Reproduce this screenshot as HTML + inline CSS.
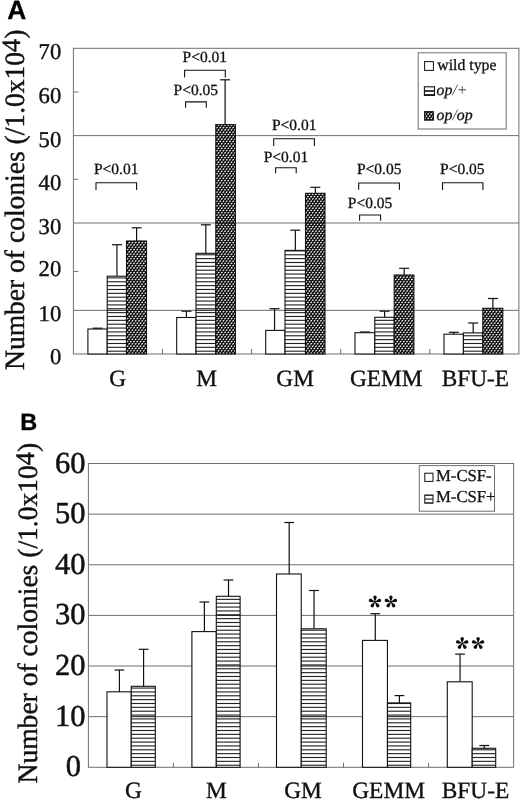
<!DOCTYPE html>
<html><head><meta charset="utf-8"><title>Figure</title>
<style>
html,body{margin:0;padding:0;background:#fff;}
body{width:520px;height:801px;overflow:hidden;font-family:"Liberation Serif",serif;}
svg{display:block;filter:grayscale(1);}
text{text-rendering:geometricPrecision;}
</style></head><body>
<svg width="520" height="801" viewBox="0 0 520 801">
<defs>
<pattern id="hz" x="0" y="0" width="8" height="27" patternUnits="userSpaceOnUse"><rect x="0" y="0" width="8" height="27" fill="#fff"/><rect x="0" y="-4.217" width="8" height="1.12" fill="#222"/><rect x="0" y="-0.360" width="8" height="1.12" fill="#222"/><rect x="0" y="3.497" width="8" height="1.12" fill="#222"/><rect x="0" y="7.354" width="8" height="1.12" fill="#222"/><rect x="0" y="11.211" width="8" height="1.12" fill="#222"/><rect x="0" y="15.069" width="8" height="1.12" fill="#222"/><rect x="0" y="18.926" width="8" height="1.12" fill="#222"/><rect x="0" y="22.783" width="8" height="1.12" fill="#222"/><rect x="0" y="26.640" width="8" height="1.12" fill="#222"/></pattern>
<pattern id="hzb" x="0" y="0" width="8" height="27" patternUnits="userSpaceOnUse"><rect x="0" y="0" width="8" height="27" fill="#fff"/><rect x="0" y="-2.917" width="8" height="1.12" fill="#222"/><rect x="0" y="0.940" width="8" height="1.12" fill="#222"/><rect x="0" y="4.797" width="8" height="1.12" fill="#222"/><rect x="0" y="8.654" width="8" height="1.12" fill="#222"/><rect x="0" y="12.511" width="8" height="1.12" fill="#222"/><rect x="0" y="16.369" width="8" height="1.12" fill="#222"/><rect x="0" y="20.226" width="8" height="1.12" fill="#222"/><rect x="0" y="24.083" width="8" height="1.12" fill="#222"/><rect x="0" y="27.940" width="8" height="1.12" fill="#222"/></pattern>
<pattern id="dn" x="0" y="0" width="13" height="23" patternUnits="userSpaceOnUse"><rect x="0" y="0" width="13" height="23" fill="#0a0a0a"/><path d="M-1.09 -0.95L-0.53 -1.35M2.16 -0.95L2.72 -1.35M5.41 -0.95L5.97 -1.35M8.66 -0.95L9.22 -1.35M11.91 -0.95L12.47 -1.35M15.16 -0.95L15.72 -1.35M-2.72 1.35L-2.16 0.95M0.53 1.35L1.09 0.95M3.78 1.35L4.34 0.95M7.03 1.35L7.59 0.95M10.28 1.35L10.84 0.95M13.53 1.35L14.09 0.95M-1.09 3.65L-0.53 3.25M2.16 3.65L2.72 3.25M5.41 3.65L5.97 3.25M8.66 3.65L9.22 3.25M11.91 3.65L12.47 3.25M15.16 3.65L15.72 3.25M-2.72 5.95L-2.16 5.55M0.53 5.95L1.09 5.55M3.78 5.95L4.34 5.55M7.03 5.95L7.59 5.55M10.28 5.95L10.84 5.55M13.53 5.95L14.09 5.55M-1.09 8.25L-0.53 7.85M2.16 8.25L2.72 7.85M5.41 8.25L5.97 7.85M8.66 8.25L9.22 7.85M11.91 8.25L12.47 7.85M15.16 8.25L15.72 7.85M-2.72 10.55L-2.16 10.15M0.53 10.55L1.09 10.15M3.78 10.55L4.34 10.15M7.03 10.55L7.59 10.15M10.28 10.55L10.84 10.15M13.53 10.55L14.09 10.15M-1.09 12.85L-0.53 12.45M2.16 12.85L2.72 12.45M5.41 12.85L5.97 12.45M8.66 12.85L9.22 12.45M11.91 12.85L12.47 12.45M15.16 12.85L15.72 12.45M-2.72 15.15L-2.16 14.75M0.53 15.15L1.09 14.75M3.78 15.15L4.34 14.75M7.03 15.15L7.59 14.75M10.28 15.15L10.84 14.75M13.53 15.15L14.09 14.75M-1.09 17.45L-0.53 17.05M2.16 17.45L2.72 17.05M5.41 17.45L5.97 17.05M8.66 17.45L9.22 17.05M11.91 17.45L12.47 17.05M15.16 17.45L15.72 17.05M-2.72 19.75L-2.16 19.35M0.53 19.75L1.09 19.35M3.78 19.75L4.34 19.35M7.03 19.75L7.59 19.35M10.28 19.75L10.84 19.35M13.53 19.75L14.09 19.35M-1.09 22.05L-0.53 21.65M2.16 22.05L2.72 21.65M5.41 22.05L5.97 21.65M8.66 22.05L9.22 21.65M11.91 22.05L12.47 21.65M15.16 22.05L15.72 21.65M-2.72 24.35L-2.16 23.95M0.53 24.35L1.09 23.95M3.78 24.35L4.34 23.95M7.03 24.35L7.59 23.95M10.28 24.35L10.84 23.95M13.53 24.35L14.09 23.95" stroke="#f2f2f2" stroke-width="1.3" stroke-linecap="round" fill="none"/></pattern>
</defs>
<rect x="0" y="0" width="520" height="801" fill="#fff"/>

<rect x="73.4" y="48.3" width="445.50" height="305.70" fill="none" stroke="#6e6e6e" stroke-width="1"/>
<line x1="73.40" y1="135.64" x2="518.90" y2="135.64" stroke="#6e6e6e" stroke-width="1"/>
<line x1="73.40" y1="222.99" x2="518.90" y2="222.99" stroke="#6e6e6e" stroke-width="1"/>
<line x1="73.40" y1="310.33" x2="518.90" y2="310.33" stroke="#6e6e6e" stroke-width="1"/>
<line x1="73.40" y1="91.97" x2="78.40" y2="91.97" stroke="#6e6e6e" stroke-width="1"/>
<line x1="73.40" y1="179.31" x2="78.40" y2="179.31" stroke="#6e6e6e" stroke-width="1"/>
<line x1="73.40" y1="271.40" x2="78.40" y2="271.40" stroke="#6e6e6e" stroke-width="1"/>
<line x1="162.50" y1="349.00" x2="162.50" y2="354.00" stroke="#6e6e6e" stroke-width="1"/>
<line x1="251.60" y1="349.00" x2="251.60" y2="354.00" stroke="#6e6e6e" stroke-width="1"/>
<line x1="340.70" y1="349.00" x2="340.70" y2="354.00" stroke="#6e6e6e" stroke-width="1"/>
<line x1="429.80" y1="349.00" x2="429.80" y2="354.00" stroke="#6e6e6e" stroke-width="1"/>
<text x="61.20" y="363.60" font-family='"Liberation Serif", serif' font-size="22.6" text-anchor="end" font-weight="normal" font-style="normal" fill="#111" stroke="#111" stroke-width="0.4" >0</text>
<text x="61.20" y="321.33" font-family='"Liberation Serif", serif' font-size="22.6" text-anchor="end" font-weight="normal" font-style="normal" fill="#111" stroke="#111" stroke-width="0.4" >10</text>
<text x="61.20" y="276.26" font-family='"Liberation Serif", serif' font-size="22.6" text-anchor="end" font-weight="normal" font-style="normal" fill="#111" stroke="#111" stroke-width="0.4" >20</text>
<text x="61.20" y="233.99" font-family='"Liberation Serif", serif' font-size="22.6" text-anchor="end" font-weight="normal" font-style="normal" fill="#111" stroke="#111" stroke-width="0.4" >30</text>
<text x="61.20" y="190.31" font-family='"Liberation Serif", serif' font-size="22.6" text-anchor="end" font-weight="normal" font-style="normal" fill="#111" stroke="#111" stroke-width="0.4" >40</text>
<text x="61.20" y="146.64" font-family='"Liberation Serif", serif' font-size="22.6" text-anchor="end" font-weight="normal" font-style="normal" fill="#111" stroke="#111" stroke-width="0.4" >50</text>
<text x="61.20" y="102.97" font-family='"Liberation Serif", serif' font-size="22.6" text-anchor="end" font-weight="normal" font-style="normal" fill="#111" stroke="#111" stroke-width="0.4" >60</text>
<text x="61.20" y="59.30" font-family='"Liberation Serif", serif' font-size="22.6" text-anchor="end" font-weight="normal" font-style="normal" fill="#111" stroke="#111" stroke-width="0.4" >70</text>
<text x="0.00" y="0.00" font-family='"Liberation Serif", serif' font-size="28" text-anchor="start" font-weight="normal" font-style="normal" fill="#111" stroke="#111" stroke-width="0.4" transform="translate(23.6,370) rotate(-90)" textLength="340.3" lengthAdjust="spacingAndGlyphs">Number of colonies (/1.0x10<tspan dy="-3.7" font-size="26.5">4</tspan><tspan dy="3.7">)</tspan></text>
<text x="7.30" y="19.40" font-family='"Liberation Sans", sans-serif' font-size="26.4" text-anchor="start" font-weight="bold" font-style="normal" fill="#000" stroke="#000" stroke-width="0.3" >A</text>
<line x1="97.65" y1="328.20" x2="97.65" y2="329.00" stroke="#111" stroke-width="1.2"/>
<line x1="92.65" y1="328.20" x2="102.65" y2="328.20" stroke="#111" stroke-width="1.2"/>
<line x1="116.95" y1="244.70" x2="116.95" y2="276.20" stroke="#111" stroke-width="1.2"/>
<line x1="111.95" y1="244.70" x2="121.95" y2="244.70" stroke="#111" stroke-width="1.2"/>
<line x1="136.60" y1="227.80" x2="136.60" y2="241.00" stroke="#111" stroke-width="1.2"/>
<line x1="131.60" y1="227.80" x2="141.60" y2="227.80" stroke="#111" stroke-width="1.2"/>
<rect x="87.90" y="329.00" width="19.30" height="25.00" fill="#fff" stroke="#111" stroke-width="1.1"/>
<rect x="107.20" y="276.20" width="19.30" height="77.80" fill="url(#hz)" stroke="#111" stroke-width="1.1"/>
<line x1="107.20" y1="310.33" x2="126.50" y2="310.33" stroke="#1a1a1a" stroke-width="1.0"/>
<rect x="126.50" y="241.00" width="20.00" height="113.00" fill="url(#dn)" stroke="#111" stroke-width="1.1"/>
<line x1="126.50" y1="310.33" x2="146.50" y2="310.33" stroke="#1a1a1a" stroke-width="1.0"/>
<line x1="186.45" y1="311.20" x2="186.45" y2="317.50" stroke="#111" stroke-width="1.2"/>
<line x1="181.45" y1="311.20" x2="191.45" y2="311.20" stroke="#111" stroke-width="1.2"/>
<line x1="205.80" y1="224.80" x2="205.80" y2="253.30" stroke="#111" stroke-width="1.2"/>
<line x1="200.80" y1="224.80" x2="210.80" y2="224.80" stroke="#111" stroke-width="1.2"/>
<line x1="225.10" y1="79.80" x2="225.10" y2="124.60" stroke="#111" stroke-width="1.2"/>
<line x1="220.10" y1="79.80" x2="230.10" y2="79.80" stroke="#111" stroke-width="1.2"/>
<rect x="176.70" y="317.50" width="19.30" height="36.50" fill="#fff" stroke="#111" stroke-width="1.1"/>
<rect x="196.00" y="253.30" width="19.80" height="100.70" fill="url(#hz)" stroke="#111" stroke-width="1.1"/>
<line x1="196.00" y1="310.33" x2="215.80" y2="310.33" stroke="#1a1a1a" stroke-width="1.0"/>
<rect x="215.80" y="124.60" width="19.60" height="229.40" fill="url(#dn)" stroke="#111" stroke-width="1.1"/>
<line x1="215.80" y1="135.64" x2="235.40" y2="135.64" stroke="#1a1a1a" stroke-width="1.0"/>
<line x1="215.80" y1="222.99" x2="235.40" y2="222.99" stroke="#1a1a1a" stroke-width="1.0"/>
<line x1="215.80" y1="310.33" x2="235.40" y2="310.33" stroke="#1a1a1a" stroke-width="1.0"/>
<line x1="274.55" y1="308.70" x2="274.55" y2="330.40" stroke="#111" stroke-width="1.2"/>
<line x1="269.55" y1="308.70" x2="279.55" y2="308.70" stroke="#111" stroke-width="1.2"/>
<line x1="295.35" y1="230.20" x2="295.35" y2="250.40" stroke="#111" stroke-width="1.2"/>
<line x1="290.35" y1="230.20" x2="300.35" y2="230.20" stroke="#111" stroke-width="1.2"/>
<line x1="315.35" y1="187.30" x2="315.35" y2="193.30" stroke="#111" stroke-width="1.2"/>
<line x1="310.35" y1="187.30" x2="320.35" y2="187.30" stroke="#111" stroke-width="1.2"/>
<rect x="265.70" y="330.40" width="19.30" height="23.60" fill="#fff" stroke="#111" stroke-width="1.1"/>
<rect x="285.00" y="250.40" width="20.50" height="103.60" fill="url(#hz)" stroke="#111" stroke-width="1.1"/>
<line x1="285.00" y1="310.33" x2="305.50" y2="310.33" stroke="#1a1a1a" stroke-width="1.0"/>
<rect x="305.50" y="193.30" width="19.50" height="160.70" fill="url(#dn)" stroke="#111" stroke-width="1.1"/>
<line x1="305.50" y1="222.99" x2="325.00" y2="222.99" stroke="#1a1a1a" stroke-width="1.0"/>
<line x1="305.50" y1="310.33" x2="325.00" y2="310.33" stroke="#1a1a1a" stroke-width="1.0"/>
<line x1="365.00" y1="332.00" x2="365.00" y2="332.70" stroke="#111" stroke-width="1.2"/>
<line x1="360.00" y1="332.00" x2="370.00" y2="332.00" stroke="#111" stroke-width="1.2"/>
<line x1="384.60" y1="311.20" x2="384.60" y2="317.30" stroke="#111" stroke-width="1.2"/>
<line x1="379.60" y1="311.20" x2="389.60" y2="311.20" stroke="#111" stroke-width="1.2"/>
<line x1="404.15" y1="268.30" x2="404.15" y2="275.00" stroke="#111" stroke-width="1.2"/>
<line x1="399.15" y1="268.30" x2="409.15" y2="268.30" stroke="#111" stroke-width="1.2"/>
<rect x="355.00" y="332.70" width="19.80" height="21.30" fill="#fff" stroke="#111" stroke-width="1.1"/>
<rect x="374.80" y="317.30" width="19.40" height="36.70" fill="url(#hz)" stroke="#111" stroke-width="1.1"/>
<rect x="394.20" y="275.00" width="19.70" height="79.00" fill="url(#dn)" stroke="#111" stroke-width="1.1"/>
<line x1="394.20" y1="310.33" x2="413.90" y2="310.33" stroke="#1a1a1a" stroke-width="1.0"/>
<line x1="453.80" y1="332.30" x2="453.80" y2="334.20" stroke="#111" stroke-width="1.2"/>
<line x1="448.80" y1="332.30" x2="458.80" y2="332.30" stroke="#111" stroke-width="1.2"/>
<line x1="473.20" y1="323.00" x2="473.20" y2="332.90" stroke="#111" stroke-width="1.2"/>
<line x1="468.20" y1="323.00" x2="478.20" y2="323.00" stroke="#111" stroke-width="1.2"/>
<line x1="492.90" y1="298.50" x2="492.90" y2="308.30" stroke="#111" stroke-width="1.2"/>
<line x1="487.90" y1="298.50" x2="497.90" y2="298.50" stroke="#111" stroke-width="1.2"/>
<rect x="444.00" y="334.20" width="19.40" height="19.80" fill="#fff" stroke="#111" stroke-width="1.1"/>
<rect x="463.40" y="332.90" width="19.40" height="21.10" fill="url(#hz)" stroke="#111" stroke-width="1.1"/>
<rect x="482.80" y="308.30" width="20.00" height="45.70" fill="url(#dn)" stroke="#111" stroke-width="1.1"/>
<line x1="482.80" y1="310.33" x2="502.80" y2="310.33" stroke="#1a1a1a" stroke-width="1.0"/>
<text x="117.70" y="385.50" font-family='"Liberation Serif", serif' font-size="23.3" text-anchor="middle" font-weight="normal" font-style="normal" fill="#111" stroke="#111" stroke-width="0.35" >G</text>
<text x="206.50" y="385.50" font-family='"Liberation Serif", serif' font-size="23.3" text-anchor="middle" font-weight="normal" font-style="normal" fill="#111" stroke="#111" stroke-width="0.35" >M</text>
<text x="295.10" y="385.50" font-family='"Liberation Serif", serif' font-size="23.3" text-anchor="middle" font-weight="normal" font-style="normal" fill="#111" stroke="#111" stroke-width="0.35" >GM</text>
<text x="386.20" y="385.50" font-family='"Liberation Serif", serif' font-size="23.3" text-anchor="middle" font-weight="normal" font-style="normal" fill="#111" stroke="#111" stroke-width="0.35" >GEMM</text>
<text x="475.30" y="385.50" font-family='"Liberation Serif", serif' font-size="23.3" text-anchor="middle" font-weight="normal" font-style="normal" fill="#111" stroke="#111" stroke-width="0.35" >BFU-E</text>
<text x="94.00" y="173.70" font-family='"Liberation Serif", serif' font-size="15.5" text-anchor="start" font-weight="normal" font-style="normal" fill="#111" stroke="#111" stroke-width="0.3" >P&lt;0.01</text>
<polyline points="96.00,190.00 96.00,182.70 136.60,182.70 136.60,190.00" fill="none" stroke="#111" stroke-width="1.1"/>
<text x="182.60" y="61.60" font-family='"Liberation Serif", serif' font-size="15.5" text-anchor="start" font-weight="normal" font-style="normal" fill="#111" stroke="#111" stroke-width="0.3" >P&lt;0.01</text>
<polyline points="184.60,77.50 184.60,70.20 225.30,70.20 225.30,77.50" fill="none" stroke="#111" stroke-width="1.1"/>
<text x="173.60" y="95.20" font-family='"Liberation Serif", serif' font-size="15.5" text-anchor="start" font-weight="normal" font-style="normal" fill="#111" stroke="#111" stroke-width="0.3" >P&lt;0.05</text>
<polyline points="185.60,107.70 185.60,101.90 206.30,101.90 206.30,107.70" fill="none" stroke="#111" stroke-width="1.1"/>
<text x="272.00" y="129.80" font-family='"Liberation Serif", serif' font-size="15.5" text-anchor="start" font-weight="normal" font-style="normal" fill="#111" stroke="#111" stroke-width="0.3" >P&lt;0.01</text>
<polyline points="273.70,146.00 273.70,138.80 314.40,138.80 314.40,146.00" fill="none" stroke="#111" stroke-width="1.1"/>
<text x="263.70" y="161.50" font-family='"Liberation Serif", serif' font-size="15.5" text-anchor="start" font-weight="normal" font-style="normal" fill="#111" stroke="#111" stroke-width="0.3" >P&lt;0.01</text>
<polyline points="275.60,173.20 275.60,167.70 296.20,167.70 296.20,173.20" fill="none" stroke="#111" stroke-width="1.1"/>
<text x="357.00" y="173.50" font-family='"Liberation Serif", serif' font-size="15.5" text-anchor="start" font-weight="normal" font-style="normal" fill="#111" stroke="#111" stroke-width="0.3" >P&lt;0.05</text>
<polyline points="358.70,189.80 358.70,183.00 399.40,183.00 399.40,189.80" fill="none" stroke="#111" stroke-width="1.1"/>
<text x="347.80" y="207.70" font-family='"Liberation Serif", serif' font-size="15.5" text-anchor="start" font-weight="normal" font-style="normal" fill="#111" stroke="#111" stroke-width="0.3" >P&lt;0.05</text>
<polyline points="359.60,220.80 359.60,215.00 380.60,215.00 380.60,220.80" fill="none" stroke="#111" stroke-width="1.1"/>
<text x="440.10" y="173.50" font-family='"Liberation Serif", serif' font-size="15.5" text-anchor="start" font-weight="normal" font-style="normal" fill="#111" stroke="#111" stroke-width="0.3" >P&lt;0.05</text>
<polyline points="442.50,190.00 442.50,182.70 482.90,182.70 482.90,190.00" fill="none" stroke="#111" stroke-width="1.1"/>
<rect x="418.2" y="52.8" width="88" height="76.2" fill="#fff" stroke="#6e6e6e" stroke-width="1"/>
<rect x="424.6" y="61.6" width="8.8" height="8.8" fill="#fff" stroke="#111" stroke-width="1"/>
<text x="437.30" y="70.00" font-family='"Liberation Serif", serif' font-size="15.8" text-anchor="start" font-weight="normal" font-style="normal" fill="#111" stroke="#111" stroke-width="0.3" >wild type</text>
<rect x="424.4" y="86.8" width="10.1" height="8.6" fill="#fff" stroke="#111" stroke-width="1.1"/>
<line x1="424.40" y1="91.00" x2="434.50" y2="91.00" stroke="#111" stroke-width="1.6"/>
<line x1="424.40" y1="94.80" x2="434.50" y2="94.80" stroke="#111" stroke-width="1.3"/>
<text x="436.60" y="95.00" font-family='"Liberation Serif", serif' font-size="15.8" text-anchor="start" font-weight="normal" font-style="italic" fill="#111" stroke="#111" stroke-width="0.3" >op<tspan fill="#444" stroke="none">/+</tspan></text>
<rect x="424.6" y="111.6" width="8.8" height="8.6" fill="url(#dn)" stroke="#111" stroke-width="1"/>
<text x="436.60" y="119.50" font-family='"Liberation Serif", serif' font-size="15.8" text-anchor="start" font-weight="normal" font-style="italic" fill="#111" stroke="#111" stroke-width="0.3" >op<tspan fill="#444" stroke="none">/</tspan>op</text>
<rect x="88.4" y="463.5" width="425.20" height="303.80" fill="none" stroke="#6e6e6e" stroke-width="1"/>
<line x1="88.40" y1="514.13" x2="513.60" y2="514.13" stroke="#6e6e6e" stroke-width="1"/>
<line x1="88.40" y1="564.77" x2="513.60" y2="564.77" stroke="#6e6e6e" stroke-width="1"/>
<line x1="88.40" y1="615.40" x2="513.60" y2="615.40" stroke="#6e6e6e" stroke-width="1"/>
<line x1="88.40" y1="666.03" x2="513.60" y2="666.03" stroke="#6e6e6e" stroke-width="1"/>
<line x1="88.40" y1="716.67" x2="513.60" y2="716.67" stroke="#6e6e6e" stroke-width="1"/>
<line x1="173.44" y1="762.80" x2="173.44" y2="767.30" stroke="#6e6e6e" stroke-width="1"/>
<line x1="258.48" y1="762.80" x2="258.48" y2="767.30" stroke="#6e6e6e" stroke-width="1"/>
<line x1="343.52" y1="762.80" x2="343.52" y2="767.30" stroke="#6e6e6e" stroke-width="1"/>
<line x1="428.56" y1="762.80" x2="428.56" y2="767.30" stroke="#6e6e6e" stroke-width="1"/>
<text x="85.40" y="725.67" font-family='"Liberation Serif", serif' font-size="30.5" text-anchor="end" font-weight="normal" font-style="normal" fill="#111" stroke="#111" stroke-width="0.5" >10</text>
<text x="85.40" y="675.03" font-family='"Liberation Serif", serif' font-size="30.5" text-anchor="end" font-weight="normal" font-style="normal" fill="#111" stroke="#111" stroke-width="0.5" >20</text>
<text x="85.40" y="624.40" font-family='"Liberation Serif", serif' font-size="30.5" text-anchor="end" font-weight="normal" font-style="normal" fill="#111" stroke="#111" stroke-width="0.5" >30</text>
<text x="85.40" y="573.77" font-family='"Liberation Serif", serif' font-size="30.5" text-anchor="end" font-weight="normal" font-style="normal" fill="#111" stroke="#111" stroke-width="0.5" >40</text>
<text x="85.40" y="523.13" font-family='"Liberation Serif", serif' font-size="30.5" text-anchor="end" font-weight="normal" font-style="normal" fill="#111" stroke="#111" stroke-width="0.5" >50</text>
<text x="85.40" y="472.50" font-family='"Liberation Serif", serif' font-size="30.5" text-anchor="end" font-weight="normal" font-style="normal" fill="#111" stroke="#111" stroke-width="0.5" >60</text>
<text x="81.00" y="775.90" font-family='"Liberation Serif", serif' font-size="30.5" text-anchor="end" font-weight="normal" font-style="normal" fill="#111" stroke="#111" stroke-width="0.5" >0</text>
<text x="0.00" y="0.00" font-family='"Liberation Serif", serif' font-size="28" text-anchor="start" font-weight="normal" font-style="normal" fill="#111" stroke="#111" stroke-width="0.4" transform="translate(36.5,783.5) rotate(-90)" textLength="340.8" lengthAdjust="spacingAndGlyphs">Number of colonies (/1.0x10<tspan dy="-2.5" font-size="27">4</tspan><tspan dy="2.5">)</tspan></text>
<text x="20.30" y="429.70" font-family='"Liberation Sans", sans-serif' font-size="23.5" text-anchor="start" font-weight="bold" font-style="normal" fill="#000" stroke="#000" stroke-width="0.3" >B</text>
<line x1="119.42" y1="670.00" x2="119.42" y2="691.80" stroke="#111" stroke-width="1.2"/>
<line x1="114.52" y1="670.00" x2="124.33" y2="670.00" stroke="#111" stroke-width="1.2"/>
<line x1="143.58" y1="649.30" x2="143.58" y2="686.30" stroke="#111" stroke-width="1.2"/>
<line x1="138.68" y1="649.30" x2="148.48" y2="649.30" stroke="#111" stroke-width="1.2"/>
<rect x="107.00" y="691.80" width="24.25" height="75.50" fill="#fff" stroke="#111" stroke-width="1.1"/>
<rect x="131.25" y="686.30" width="24.05" height="81.00" fill="url(#hzb)" stroke="#111" stroke-width="1.1"/>
<line x1="131.25" y1="716.67" x2="155.30" y2="716.67" stroke="#1a1a1a" stroke-width="1.0"/>
<line x1="204.40" y1="602.00" x2="204.40" y2="631.60" stroke="#111" stroke-width="1.2"/>
<line x1="199.50" y1="602.00" x2="209.30" y2="602.00" stroke="#111" stroke-width="1.2"/>
<line x1="228.50" y1="580.00" x2="228.50" y2="596.30" stroke="#111" stroke-width="1.2"/>
<line x1="223.60" y1="580.00" x2="233.40" y2="580.00" stroke="#111" stroke-width="1.2"/>
<rect x="191.90" y="631.60" width="24.40" height="135.70" fill="#fff" stroke="#111" stroke-width="1.1"/>
<rect x="216.30" y="596.30" width="23.80" height="171.00" fill="url(#hzb)" stroke="#111" stroke-width="1.1"/>
<line x1="216.30" y1="615.40" x2="240.10" y2="615.40" stroke="#1a1a1a" stroke-width="1.0"/>
<line x1="216.30" y1="666.03" x2="240.10" y2="666.03" stroke="#1a1a1a" stroke-width="1.0"/>
<line x1="216.30" y1="716.67" x2="240.10" y2="716.67" stroke="#1a1a1a" stroke-width="1.0"/>
<line x1="289.18" y1="522.50" x2="289.18" y2="574.00" stroke="#111" stroke-width="1.2"/>
<line x1="284.28" y1="522.50" x2="294.07" y2="522.50" stroke="#111" stroke-width="1.2"/>
<line x1="314.03" y1="590.50" x2="314.03" y2="628.80" stroke="#111" stroke-width="1.2"/>
<line x1="309.13" y1="590.50" x2="318.93" y2="590.50" stroke="#111" stroke-width="1.2"/>
<rect x="276.50" y="574.00" width="24.75" height="193.30" fill="#fff" stroke="#111" stroke-width="1.1"/>
<rect x="301.25" y="628.80" width="24.95" height="138.50" fill="url(#hzb)" stroke="#111" stroke-width="1.1"/>
<line x1="301.25" y1="666.03" x2="326.20" y2="666.03" stroke="#1a1a1a" stroke-width="1.0"/>
<line x1="301.25" y1="716.67" x2="326.20" y2="716.67" stroke="#1a1a1a" stroke-width="1.0"/>
<line x1="375.28" y1="613.70" x2="375.28" y2="640.40" stroke="#111" stroke-width="1.2"/>
<line x1="370.38" y1="613.70" x2="380.18" y2="613.70" stroke="#111" stroke-width="1.2"/>
<line x1="399.38" y1="695.60" x2="399.38" y2="702.90" stroke="#111" stroke-width="1.2"/>
<line x1="394.48" y1="695.60" x2="404.27" y2="695.60" stroke="#111" stroke-width="1.2"/>
<rect x="362.50" y="640.40" width="24.95" height="126.90" fill="#fff" stroke="#111" stroke-width="1.1"/>
<rect x="387.45" y="702.90" width="23.25" height="64.40" fill="url(#hzb)" stroke="#111" stroke-width="1.1"/>
<line x1="387.45" y1="716.67" x2="410.70" y2="716.67" stroke="#1a1a1a" stroke-width="1.0"/>
<line x1="460.05" y1="654.10" x2="460.05" y2="681.80" stroke="#111" stroke-width="1.2"/>
<line x1="455.15" y1="654.10" x2="464.95" y2="654.10" stroke="#111" stroke-width="1.2"/>
<line x1="484.25" y1="745.50" x2="484.25" y2="748.30" stroke="#111" stroke-width="1.2"/>
<line x1="479.35" y1="745.50" x2="489.15" y2="745.50" stroke="#111" stroke-width="1.2"/>
<rect x="447.30" y="681.80" width="24.90" height="85.50" fill="#fff" stroke="#111" stroke-width="1.1"/>
<rect x="472.20" y="748.30" width="23.50" height="19.00" fill="url(#hzb)" stroke="#111" stroke-width="1.1"/>
<text x="133.50" y="797.80" font-family='"Liberation Serif", serif' font-size="23.4" text-anchor="middle" font-weight="normal" font-style="normal" fill="#111" stroke="#111" stroke-width="0.35" >G</text>
<text x="216.50" y="797.80" font-family='"Liberation Serif", serif' font-size="23.4" text-anchor="middle" font-weight="normal" font-style="normal" fill="#111" stroke="#111" stroke-width="0.35" >M</text>
<text x="303.00" y="797.80" font-family='"Liberation Serif", serif' font-size="23.4" text-anchor="middle" font-weight="normal" font-style="normal" fill="#111" stroke="#111" stroke-width="0.35" >GM</text>
<text x="388.60" y="797.80" font-family='"Liberation Serif", serif' font-size="23.4" text-anchor="middle" font-weight="normal" font-style="normal" fill="#111" stroke="#111" stroke-width="0.35" >GEMM</text>
<text x="475.50" y="797.80" font-family='"Liberation Serif", serif' font-size="23.4" text-anchor="middle" font-weight="normal" font-style="normal" fill="#111" stroke="#111" stroke-width="0.35" >BFU-E</text>
<g transform="translate(375.00,601.90)" fill="#0a0a0a"><path d="M0,0.4 C-0.55,-2.14 -1.70,-3.56 -1.70,-4.75 A1.7,1.7 0 1 1 1.70,-4.75 C1.70,-3.56 0.55,-2.14 0,0.4Z" transform="rotate(0)"/><path d="M0,0.4 C-0.55,-2.14 -1.70,-3.56 -1.70,-4.75 A1.7,1.7 0 1 1 1.70,-4.75 C1.70,-3.56 0.55,-2.14 0,0.4Z" transform="rotate(72)"/><path d="M0,0.4 C-0.55,-2.14 -1.70,-3.56 -1.70,-4.75 A1.7,1.7 0 1 1 1.70,-4.75 C1.70,-3.56 0.55,-2.14 0,0.4Z" transform="rotate(144)"/><path d="M0,0.4 C-0.55,-2.14 -1.70,-3.56 -1.70,-4.75 A1.7,1.7 0 1 1 1.70,-4.75 C1.70,-3.56 0.55,-2.14 0,0.4Z" transform="rotate(216)"/><path d="M0,0.4 C-0.55,-2.14 -1.70,-3.56 -1.70,-4.75 A1.7,1.7 0 1 1 1.70,-4.75 C1.70,-3.56 0.55,-2.14 0,0.4Z" transform="rotate(288)"/><circle r="0.8"/></g>
<g transform="translate(390.90,601.90)" fill="#0a0a0a"><path d="M0,0.4 C-0.55,-2.14 -1.70,-3.56 -1.70,-4.75 A1.7,1.7 0 1 1 1.70,-4.75 C1.70,-3.56 0.55,-2.14 0,0.4Z" transform="rotate(0)"/><path d="M0,0.4 C-0.55,-2.14 -1.70,-3.56 -1.70,-4.75 A1.7,1.7 0 1 1 1.70,-4.75 C1.70,-3.56 0.55,-2.14 0,0.4Z" transform="rotate(72)"/><path d="M0,0.4 C-0.55,-2.14 -1.70,-3.56 -1.70,-4.75 A1.7,1.7 0 1 1 1.70,-4.75 C1.70,-3.56 0.55,-2.14 0,0.4Z" transform="rotate(144)"/><path d="M0,0.4 C-0.55,-2.14 -1.70,-3.56 -1.70,-4.75 A1.7,1.7 0 1 1 1.70,-4.75 C1.70,-3.56 0.55,-2.14 0,0.4Z" transform="rotate(216)"/><path d="M0,0.4 C-0.55,-2.14 -1.70,-3.56 -1.70,-4.75 A1.7,1.7 0 1 1 1.70,-4.75 C1.70,-3.56 0.55,-2.14 0,0.4Z" transform="rotate(288)"/><circle r="0.8"/></g>
<g transform="translate(462.20,643.40)" fill="#0a0a0a"><path d="M0,0.4 C-0.55,-2.14 -1.70,-3.56 -1.70,-4.75 A1.7,1.7 0 1 1 1.70,-4.75 C1.70,-3.56 0.55,-2.14 0,0.4Z" transform="rotate(0)"/><path d="M0,0.4 C-0.55,-2.14 -1.70,-3.56 -1.70,-4.75 A1.7,1.7 0 1 1 1.70,-4.75 C1.70,-3.56 0.55,-2.14 0,0.4Z" transform="rotate(72)"/><path d="M0,0.4 C-0.55,-2.14 -1.70,-3.56 -1.70,-4.75 A1.7,1.7 0 1 1 1.70,-4.75 C1.70,-3.56 0.55,-2.14 0,0.4Z" transform="rotate(144)"/><path d="M0,0.4 C-0.55,-2.14 -1.70,-3.56 -1.70,-4.75 A1.7,1.7 0 1 1 1.70,-4.75 C1.70,-3.56 0.55,-2.14 0,0.4Z" transform="rotate(216)"/><path d="M0,0.4 C-0.55,-2.14 -1.70,-3.56 -1.70,-4.75 A1.7,1.7 0 1 1 1.70,-4.75 C1.70,-3.56 0.55,-2.14 0,0.4Z" transform="rotate(288)"/><circle r="0.8"/></g>
<g transform="translate(478.10,643.40)" fill="#0a0a0a"><path d="M0,0.4 C-0.55,-2.14 -1.70,-3.56 -1.70,-4.75 A1.7,1.7 0 1 1 1.70,-4.75 C1.70,-3.56 0.55,-2.14 0,0.4Z" transform="rotate(0)"/><path d="M0,0.4 C-0.55,-2.14 -1.70,-3.56 -1.70,-4.75 A1.7,1.7 0 1 1 1.70,-4.75 C1.70,-3.56 0.55,-2.14 0,0.4Z" transform="rotate(72)"/><path d="M0,0.4 C-0.55,-2.14 -1.70,-3.56 -1.70,-4.75 A1.7,1.7 0 1 1 1.70,-4.75 C1.70,-3.56 0.55,-2.14 0,0.4Z" transform="rotate(144)"/><path d="M0,0.4 C-0.55,-2.14 -1.70,-3.56 -1.70,-4.75 A1.7,1.7 0 1 1 1.70,-4.75 C1.70,-3.56 0.55,-2.14 0,0.4Z" transform="rotate(216)"/><path d="M0,0.4 C-0.55,-2.14 -1.70,-3.56 -1.70,-4.75 A1.7,1.7 0 1 1 1.70,-4.75 C1.70,-3.56 0.55,-2.14 0,0.4Z" transform="rotate(288)"/><circle r="0.8"/></g>
<rect x="419.3" y="465.6" width="75.2" height="45.6" fill="#fff" stroke="#6e6e6e" stroke-width="1"/>
<rect x="424.8" y="473.2" width="8.2" height="8.2" fill="#fff" stroke="#111" stroke-width="1"/>
<text x="436.00" y="480.80" font-family='"Liberation Serif", serif' font-size="16.7" text-anchor="start" font-weight="normal" font-style="normal" fill="#111" stroke="#111" stroke-width="0.3" >M-CSF-</text>
<rect x="424.8" y="495.0" width="8.2" height="8.2" fill="url(#hzb)" stroke="#111" stroke-width="1"/>
<text x="436.00" y="502.20" font-family='"Liberation Serif", serif' font-size="16.7" text-anchor="start" font-weight="normal" font-style="normal" fill="#111" stroke="#111" stroke-width="0.3" >M-CSF+</text>
</svg>
</body></html>
